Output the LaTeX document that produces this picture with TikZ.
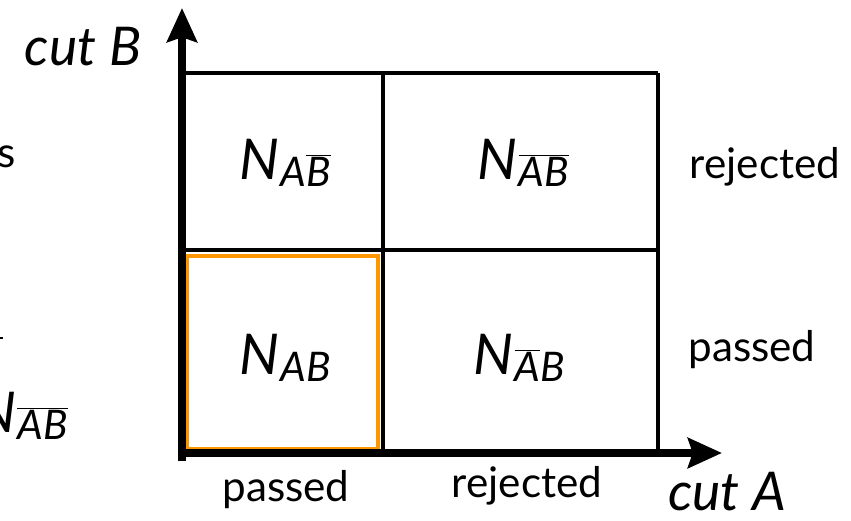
\documentclass[tikz,border=0pt]{standalone}
\usepackage{fontspec}
\setmainfont{Lato}
\usetikzlibrary{arrows.meta}

\definecolor{passorange}{RGB}{255,150,0}

\newcommand{\Ncount}[1]{\textit{N}\hspace{1pt}\raisebox{-0.12em}{\fontsize{29}{29}\selectfont\itshape #1}}
\newcommand{\negated}[1]{$\overline{\mbox{#1}}$}

\begin{document}
\begin{tikzpicture}[x=0.025cm,y=-0.025cm,
    axis/.style={line width=5pt,-{Stealth[length=0.85cm,width=0.75cm,inset=0.12cm]}},
    grid/.style={line width=3.5pt},
    count/.style={font=\fontsize{40}{40}\selectfont},
    cutlabel/.style={font=\fontsize{38}{38}\selectfont\itshape, inner sep=0pt},
    outcome/.style={font=\fontsize{30}{30}\selectfont}]

    \useasboundingbox[clip] (0,0) rectangle (851,521);

    %draw grid:
    \draw[grid] (182,73) -- (658,73);
    \draw[grid] (182,250) -- (658,250);
    \draw[grid] (383,73) -- (383,455);
    \draw[grid] (658,73) -- (658,456);

    %highlight passed-passed cell:
    \draw[passorange, line width=3.2pt] (187,256) rectangle (378,449);

    %draw axes:
    \draw[axis] (182,461) -- (182,8);
    \draw[axis] (179,453) -- (722,453);
    \node[cutlabel] (cutB) at (83,47) {cut B};
    \node[cutlabel] (cutA) at (727,492) {cut A};

    %cell counts:
    \node[count] (NAnB) at (285,163) {\Ncount{A\negated{B}}};
    \node[count] (NnAnB) at (523,163) {\Ncount{\negated{AB}}};
    \node[count] (NAB) at (285,358) {\Ncount{AB}};
    \node[count] (NnAB) at (519,358) {\Ncount{\negated{A}B}};

    %outcomes:
    \node[outcome] (passA) at (286,490) {passed};
    \node[outcome] (rejA) at (527,486) {rejected};
    \node[outcome] (rejB) at (765,167) {rejected};
    \node[outcome] (passB) at (752,350) {passed};

    %cut-off text at the left edge:
    \node[outcome, anchor=east, inner sep=0pt] (leftS) at (16,157) {s};
    \draw[line width=1pt] (0,338) -- (3,338);
    \node[count, anchor=east, inner sep=0pt] (leftN) at (68,416) {\Ncount{\negated{AB}}};

\end{tikzpicture}
\end{document}
